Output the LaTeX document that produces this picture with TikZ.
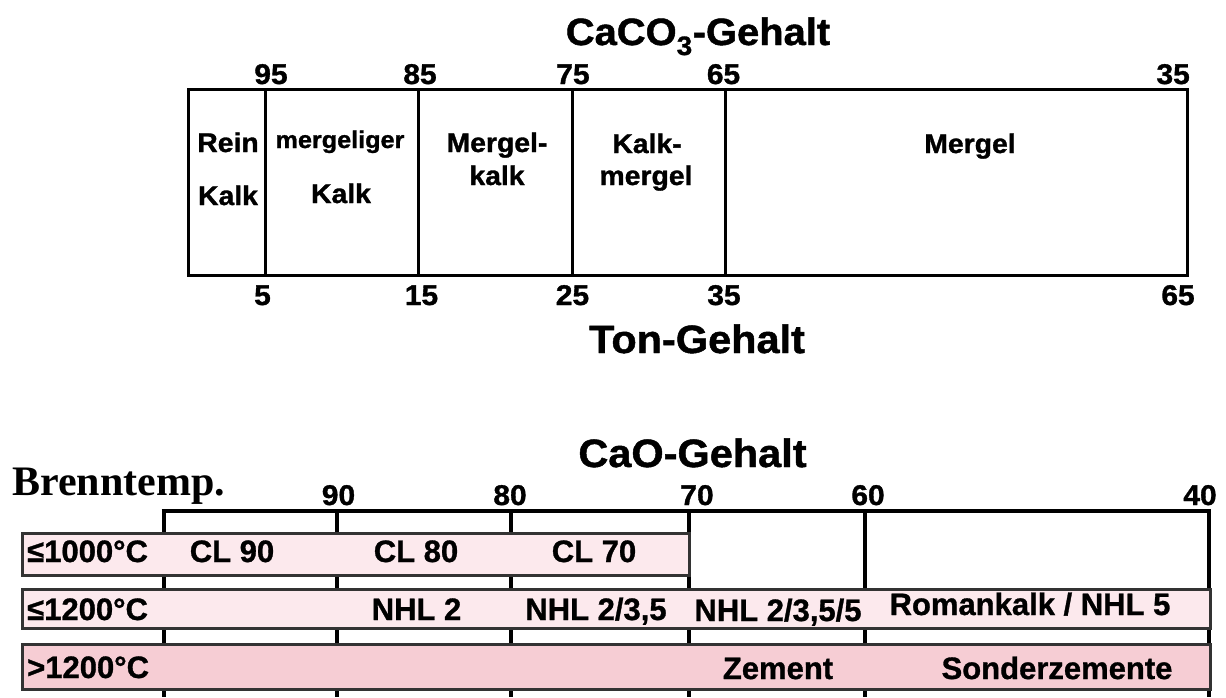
\documentclass[tikz,border=0pt]{standalone}
\usepackage{fontspec}
\setmainfont{Liberation Sans}
\newfontfamily\wf[FakeStretch=1.05,FakeBold=1.2]{Liberation Sans Bold}
\newfontfamily\rf[FakeBold=1]{Liberation Sans Bold}
\newfontfamily\timesf{Liberation Serif}
\definecolor{pinkA}{HTML}{FCE9ED}
\definecolor{pinkB}{HTML}{F6CDD4}
\definecolor{edgeG}{HTML}{333333}
\tikzset{
  lbl/.style={font=\wf\fontsize{28.5}{30}\selectfont, inner sep=0pt, anchor=base},
  cell/.style={font=\wf\fontsize{27}{30}\selectfont, inner sep=0pt, anchor=base},
  title/.style={font=\wf\fontsize{39.5}{42}\selectfont, inner sep=0pt, anchor=base},
  rowtxt/.style={font=\rf\fontsize{31}{33}\selectfont, inner sep=0pt, anchor=base},
  band/.style={draw=edgeG, line width=2.5pt, inner sep=0pt, anchor=north west},
  gridA/.style={line width=3pt},
  gridB/.style={line width=4pt},
}
\begin{document}
\begin{tikzpicture}[x=1pt,y=-1pt]
\useasboundingbox[fill=white] (0,0) rectangle (1226,697);
% ---------- top diagram ----------
\node[title, font=\wf\fontsize{38}{40}\selectfont] (t1) at (698,45) {CaCO\textsubscript{3}-Gehalt};
\node[gridA, draw, minimum width=999pt, minimum height=186pt, anchor=north west, inner sep=0pt] (box) at (187,88) {};
\foreach \x/\n in {265/a,418/b,572/c,725/d}{
  \coordinate (top\n) at (\x,88);
  \coordinate (bot\n) at (\x,274);
  \draw[gridA] (top\n) -- (bot\n);
}
\node[lbl] (n95) at (271,84) {95};
\node[lbl] (n85) at (420,84) {85};
\node[lbl] (n75) at (573,84) {75};
\node[lbl] (n65) at (723.5,84) {65};
\node[lbl, anchor=base east] (n35a) at (1190,84) {35};
\node[lbl] (m5) at (262.5,305) {5};
\node[lbl] (m15) at (421.5,305) {15};
\node[lbl] (m25) at (572.5,305) {25};
\node[lbl] (m35) at (724,305) {35};
\node[lbl] (m65) at (1178,305) {65};
\node[title] (t2) at (697,353) {Ton-Gehalt};
\node[cell] (c1a) at (228,152) {Rein};
\node[cell] (c1b) at (228,205) {Kalk};
\node[cell, font=\wf\fontsize{24}{26}\selectfont] (c2a) at (340,148) {mergeliger};
\node[cell] (c2b) at (341,203) {Kalk};
\node[cell] (c3a) at (497,152) {Mergel-};
\node[cell] (c3b) at (497,185) {kalk};
\node[cell] (c4a) at (647,153) {Kalk-};
\node[cell] (c4b) at (646,185) {mergel};
\node[cell] (c5) at (970,153) {Mergel};
% ---------- bottom diagram ----------
\node[title] (t3) at (692.5,467) {CaO-Gehalt};
\node[font=\timesf\bfseries\fontsize{42}{44}\selectfont, inner sep=0pt, anchor=base west] (bt) at (12,495) {Brenntemp.};
\foreach \x/\n in {163.5/a,336.5/b,510.5/c,689/d,865/e,1209/f}{
  \coordinate (gt\n) at (\x,511);
  \coordinate (gb\n) at (\x,697);
  \draw[gridB] (gt\n) -- (gb\n);
}
\draw[gridB] ([xshift=-2pt]gta) -- ([xshift=2pt]gtf);
\node[lbl] (k90) at (338.5,505) {90};
\node[lbl] (k80) at (510,505) {80};
\node[lbl] (k70) at (697,505) {70};
\node[lbl] (k60) at (868,505) {60};
\node[lbl] (k40) at (1200,505) {40};
\node[band, fill=pinkA, minimum width=667pt, minimum height=42pt] (r1) at (21,532) {};
\node[band, fill=pinkA, minimum width=1188pt, minimum height=39pt] (r2) at (21,588) {};
\node[band, fill=pinkB, minimum width=1188pt, minimum height=45pt] (r3) at (21,643) {};
\node[rowtxt, anchor=base west] (ra) at (27,562) {≤1000°C};
\node[rowtxt] (r1b) at (232,562) {CL 90};
\node[rowtxt] (r1c) at (416,562) {CL 80};
\node[rowtxt] (r1d) at (594,562) {CL 70};
\node[rowtxt, anchor=base west] (rb) at (27,620) {≤1200°C};
\node[rowtxt] (r2b) at (416.5,620) {NHL 2};
\node[rowtxt] (r2c) at (596,620) {NHL 2/3,5};
\node[rowtxt] (r2d) at (778,621) {NHL 2/3,5/5};
\node[rowtxt] (r2e) at (1030,615) {Romankalk / NHL 5};
\node[rowtxt, anchor=base west] (rc) at (27,678) {>1200°C};
\node[rowtxt] (r3b) at (778,679) {Zement};
\node[rowtxt] (r3c) at (1057,679) {Sonderzemente};
\end{tikzpicture}
\end{document}
